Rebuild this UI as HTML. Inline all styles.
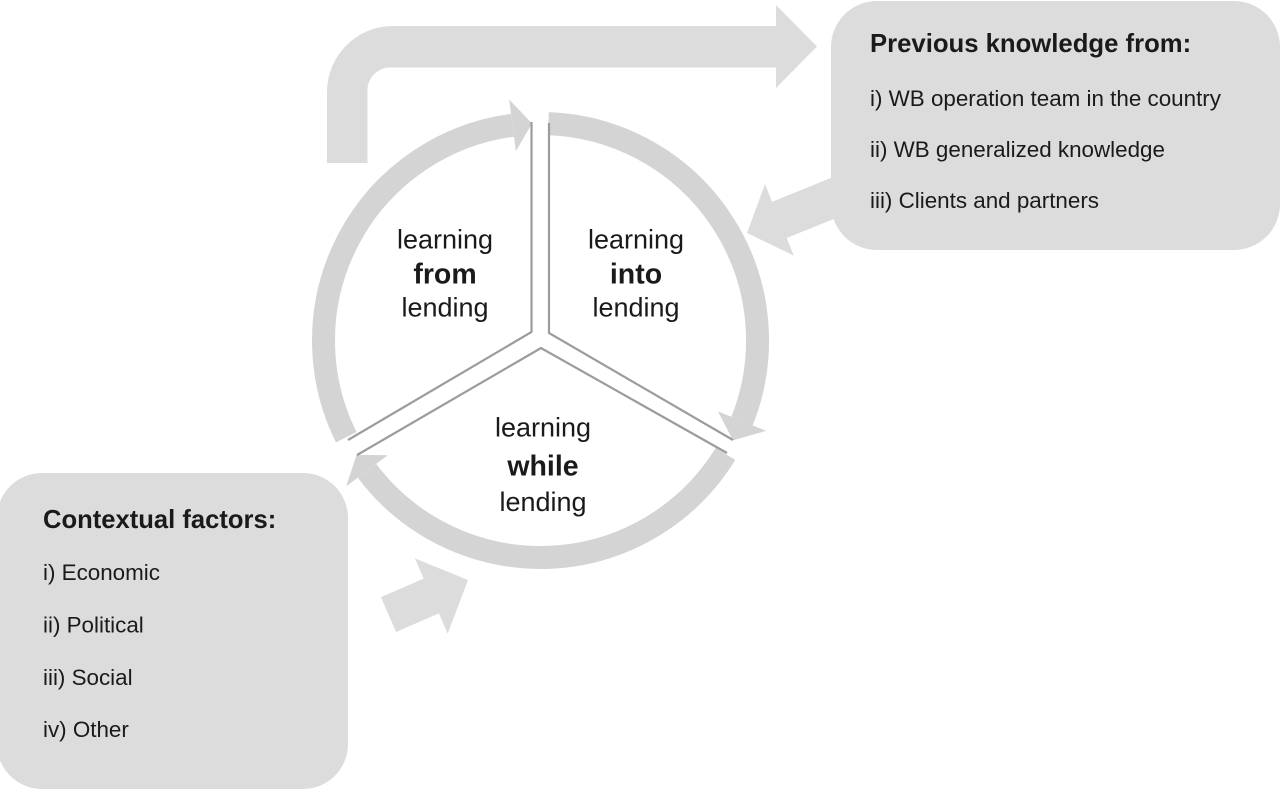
<!DOCTYPE html>
<html>
<head>
<meta charset="utf-8">
<style>
  html, body { margin: 0; padding: 0; background: #ffffff; }
  body { width: 1280px; height: 790px; overflow: hidden; }
  svg { display: block; }
  .lab { font-family: "Liberation Sans", Arial, sans-serif; fill: #1a1a1a; }
</style>
</head>
<body>
<svg width="1280" height="790" viewBox="0 0 1280 790" xmlns="http://www.w3.org/2000/svg">
  <rect x="0" y="0" width="1280" height="790" fill="#ffffff"/>

  <!-- Top bent arrow -->
  <path d="M 327 163 L 327 92 A 66 66 0 0 1 393 26 L 776 26 L 776 5 L 817 46.5 L 776 88 L 776 67.5 L 390 67.5 A 22.5 22.5 0 0 0 367.5 90 L 367.5 163 Z" fill="#dcdcdc"/>

  <!-- Small arrow from right box (under box) -->
  <polygon points="846.3,171.8 772.1,201.8 765,184.2 747,233 793.8,255.6 786.7,238 860.9,208" fill="#dcdcdc"/>

  <!-- Small arrow from left box -->
  <polygon points="380.9,597.2 423.7,578.6 414.9,558.4 468,580 447.7,633.6 438.9,613.4 396.1,632" fill="#dcdcdc"/>

  <!-- Ring arcs -->
  <g fill="none" stroke="#d4d4d4" stroke-width="23" stroke-linecap="butt">
    <path d="M 346.3 437.3 A 217 217 0 0 1 512.55 125.3"/>
    <path d="M 548.4 123.6 A 217 217 0 0 1 742.0 421.1"/>
    <path d="M 725.5 453.9 A 217 217 0 0 1 367.0 470.8"/>
  </g>
  <!-- Ring arrowheads -->
  <g fill="#d4d4d4">
    <polygon points="509.2,99.5 515.9,151.1 532,123.5"/>
    <polygon points="766.1,430.8 717.9,411.4 733,440.4"/>
    <polygon points="346.2,486.4 387.8,455.2 356.5,454.9"/>
  </g>

  <!-- Dividers -->
  <g fill="none" stroke="#9c9c9c" stroke-width="2.2" stroke-linejoin="miter">
    <polyline points="531.5,122 531.5,332 348,440"/>
    <polyline points="549,123 549,333 733,440"/>
    <polyline points="357,455 541,348 727,453"/>
  </g>

  <!-- Right box -->
  <rect x="831" y="1" width="449" height="249" rx="46" ry="46" fill="#dcdcdc"/>
  <text class="lab" x="870" y="52" font-size="25.7" font-weight="bold">Previous knowledge from:</text>
  <text class="lab" x="870" y="106" font-size="22.4">i) WB operation team in the country</text>
  <text class="lab" x="870" y="157" font-size="22.4">ii) WB generalized knowledge</text>
  <text class="lab" x="870" y="208" font-size="22.4">iii) Clients and partners</text>

  <!-- Left box -->
  <rect x="-3" y="473" width="351" height="316" rx="45" ry="45" fill="#dcdcdc"/>
  <text class="lab" x="43" y="528" font-size="25.6" font-weight="bold">Contextual factors:</text>
  <text class="lab" x="43" y="580" font-size="22.4">i) Economic</text>
  <text class="lab" x="43" y="632.5" font-size="22.4">ii) Political</text>
  <text class="lab" x="43" y="685" font-size="22.4">iii) Social</text>
  <text class="lab" x="43" y="737" font-size="22.4">iv) Other</text>

  <!-- Circle labels -->
  <g class="lab" text-anchor="middle">
    <text x="445" y="248.5" font-size="27">learning</text>
    <text x="445" y="283.5" font-size="28.5" font-weight="bold">from</text>
    <text x="445" y="316.7" font-size="27">lending</text>

    <text x="636" y="248.5" font-size="27">learning</text>
    <text x="636" y="283.5" font-size="28.5" font-weight="bold">into</text>
    <text x="636" y="316.7" font-size="27">lending</text>

    <text x="543" y="436.7" font-size="27">learning</text>
    <text x="543" y="475.5" font-size="28.5" font-weight="bold">while</text>
    <text x="543" y="511" font-size="27">lending</text>
  </g>
</svg>
</body>
</html>
